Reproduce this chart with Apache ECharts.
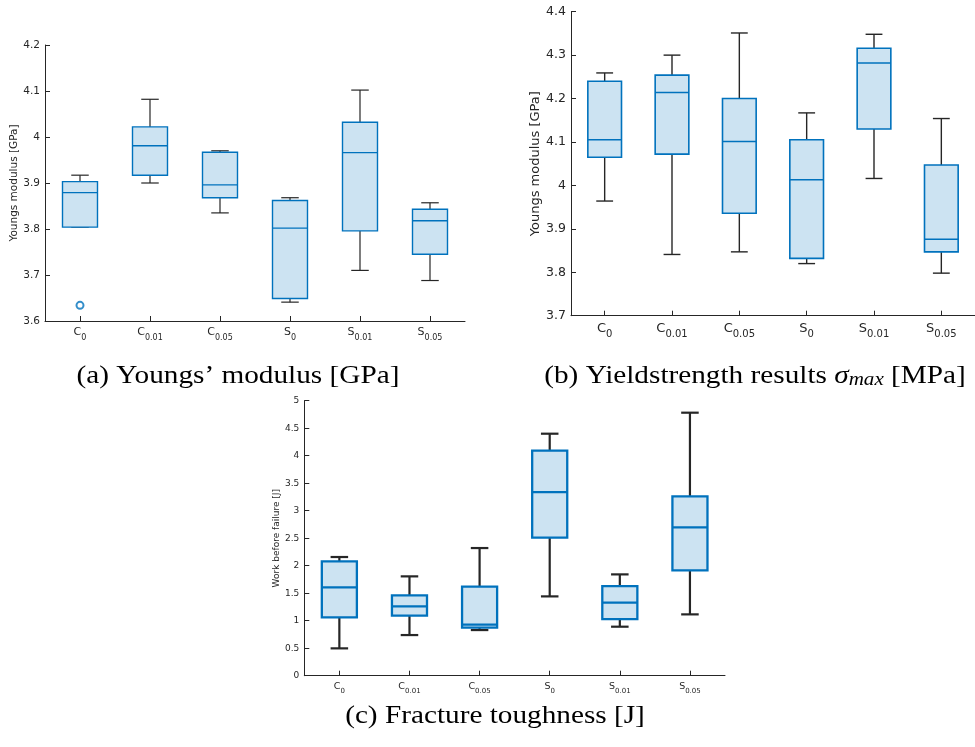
<!DOCTYPE html>
<html>
<head>
<meta charset="utf-8">
<script src="https://cdn.jsdelivr.net/npm/echarts@6/dist/echarts.min.js"></script>
<style>
  html, body { margin: 0; padding: 0; background: #fff; }
  #chart { width: 975px; height: 747px; }
</style>
</head>
<body>
<div id="chart"></div>
<script>
// Group labels: letter and subscript separated by "_"
const categories = ['C_0', 'C_0.01', 'C_0.05', 'S_0', 'S_0.01', 'S_0.05'];

// Box statistics per group: [lower whisker, Q1, median, Q3, upper whisker]
const modulusStats = [
  [3.804, 3.804, 3.879, 3.903, 3.917],
  [3.900, 3.917, 3.981, 4.022, 4.082],
  [3.835, 3.868, 3.896, 3.967, 3.970],
  [3.641, 3.649, 3.802, 3.862, 3.868],
  [3.710, 3.796, 3.966, 4.032, 4.102],
  [3.688, 3.745, 3.818, 3.843, 3.857]
];
// Outliers: [group index, value]
const modulusOutliers = [[0, 3.634]];

const yieldStats = [
  [3.964, 4.065, 4.105, 4.240, 4.259],
  [3.841, 4.072, 4.214, 4.254, 4.300],
  [3.847, 3.936, 4.101, 4.200, 4.351],
  [3.820, 3.832, 4.013, 4.105, 4.167],
  [4.016, 4.130, 4.282, 4.316, 4.348],
  [3.798, 3.847, 3.876, 4.047, 4.154]
];

const workStats = [
  [0.497, 1.061, 1.606, 2.079, 2.158],
  [0.739, 1.091, 1.261, 1.461, 1.806],
  [0.830, 0.873, 0.927, 1.618, 2.321],
  [1.442, 2.509, 3.339, 4.091, 4.400],
  [0.891, 1.030, 1.327, 1.630, 1.842],
  [1.115, 1.915, 2.697, 3.261, 4.782]
];

const BLUE = '#0072bd';
const FILL = '#cce3f2';
const WHISKER = '#262626';
const AXIS = '#262626';
const SANS = 'DejaVu Sans';
const SERIF = '"Liberation Serif"';
const CAP_SIZE = 25;
const CAP_SCALE = 1.17;

function boxRenderer(boxLw, whiskerLw) {
  return function (params, api) {
    const i = api.value(0);
    const lo = api.coord([i, api.value(1)]);
    const q1 = api.coord([i, api.value(2)]);
    const md = api.coord([i, api.value(3)]);
    const q3 = api.coord([i, api.value(4)]);
    const hi = api.coord([i, api.value(5)]);
    const band = api.size([1, 0])[0];
    const cx = lo[0];
    const hb = band * 0.25;   // half box width
    const hc = band * 0.125;  // half cap width
    const wStyle = { stroke: WHISKER, lineWidth: whiskerLw };
    return {
      type: 'group',
      children: [
        { type: 'line', shape: { x1: cx, y1: q3[1], x2: cx, y2: hi[1] }, style: wStyle },
        { type: 'line', shape: { x1: cx, y1: lo[1], x2: cx, y2: q1[1] }, style: wStyle },
        { type: 'line', shape: { x1: cx - hc, y1: hi[1], x2: cx + hc, y2: hi[1] }, style: wStyle },
        { type: 'line', shape: { x1: cx - hc, y1: lo[1], x2: cx + hc, y2: lo[1] }, style: wStyle },
        { type: 'rect', shape: { x: cx - hb, y: q3[1], width: hb * 2, height: q1[1] - q3[1] },
          style: { fill: FILL, stroke: BLUE, lineWidth: boxLw } },
        { type: 'line', shape: { x1: cx - hb, y1: md[1], x2: cx + hb, y2: md[1] },
          style: { stroke: BLUE, lineWidth: boxLw } }
      ]
    };
  };
}

function catLabel(fs, subFs, subPad) {
  return {
    interval: 0,
    color: AXIS,
    fontFamily: SANS,
    margin: 6,
    formatter: function (v) {
      const p = v.split('_');
      return '{m|' + p[0] + '}{s|' + p[1] + '}';
    },
    rich: {
      m: { fontSize: fs, fontFamily: SANS, color: AXIS, verticalAlign: 'top' },
      s: { fontSize: subFs, fontFamily: SANS, color: AXIS, verticalAlign: 'bottom', padding: [subPad, 0, 0, 0] }
    }
  };
}

function xAxisFor(gridIndex, fs, subFs, subPad) {
  return {
    type: 'category', gridIndex: gridIndex, data: categories, boundaryGap: true,
    axisLine: { lineStyle: { color: AXIS, width: 1 } },
    axisTick: { show: true, interval: 0, inside: true, alignWithLabel: true, length: 5,
      lineStyle: { color: AXIS, width: 1 } },
    axisLabel: catLabel(fs, subFs, subPad),
    splitLine: { show: false }
  };
}

function yAxisFor(gridIndex, min, max, interval, name, nameFs, labelFs, gap) {
  return {
    type: 'value', gridIndex: gridIndex, min: min, max: max, interval: interval,
    name: name, nameLocation: 'middle', nameGap: gap,
    nameTextStyle: { fontSize: nameFs, fontFamily: SANS, color: AXIS },
    axisLine: { show: true, lineStyle: { color: AXIS, width: 1 } },
    axisTick: { show: true, inside: true, length: 5, lineStyle: { color: AXIS } },
    axisLabel: { fontSize: labelFs, fontFamily: SANS, color: AXIS, margin: 5 },
    splitLine: { show: false }
  };
}

function caption(x, y, text, rich) {
  const style = {
    text: text, font: CAP_SIZE + 'px ' + SERIF, fill: '#000',
    textAlign: 'center', textVerticalAlign: 'middle'
  };
  if (rich) style.rich = rich;
  return { type: 'text', x: x, y: y, scaleX: CAP_SCALE, style: style };
}

const chart = echarts.init(document.getElementById('chart'), null, { renderer: 'canvas' });

chart.setOption({
  animation: false,
  backgroundColor: '#ffffff',
  grid: [
    { left: 45, top: 45, width: 420, height: 276 },
    { left: 571, top: 11.7, width: 414, height: 304 },
    { left: 304.3, top: 400.7, width: 420.7, height: 275 }
  ],
  xAxis: [
    xAxisFor(0, 11, 8, 7),
    xAxisFor(1, 13, 10, 8),
    xAxisFor(2, 9.5, 7, 6)
  ],
  yAxis: [
    yAxisFor(0, 3.6, 4.2, 0.1, 'Youngs modulus [GPa]', 10.5, 10.5, 20),
    yAxisFor(1, 3.7, 4.4, 0.1, 'Youngs modulus [GPa]', 13, 12.5, 27),
    yAxisFor(2, 0, 5, 0.5, 'Work before failure [J]', 9, 9, 22)
  ],
  graphic: [
    caption(238, 376, '(a) Youngs\u2019 modulus [GPa]'),
    caption(755, 376, '(b) Yieldstrength results {i|σ}{sub|max} [MPa]', {
      i: { font: 'italic ' + CAP_SIZE + 'px ' + SERIF, fill: '#000' },
      sub: { font: 'italic 18px ' + SERIF, fill: '#000', padding: [9, 0, 0, 0], verticalAlign: 'bottom' }
    }),
    caption(495, 716, '(c) Fracture toughness [J]')
  ],
  series: [
    {
      type: 'custom', xAxisIndex: 0, yAxisIndex: 0,
      renderItem: boxRenderer(1.4, 1.2),
      encode: { x: 0, y: [1, 2, 3, 4, 5] },
      data: modulusStats.map((s, i) => [i].concat(s))
    },
    {
      type: 'scatter', xAxisIndex: 0, yAxisIndex: 0,
      symbol: 'emptyCircle', symbolSize: 7,
      itemStyle: { color: BLUE, borderColor: BLUE, borderWidth: 1.2 },
      data: modulusOutliers
    },
    {
      type: 'custom', xAxisIndex: 1, yAxisIndex: 1,
      renderItem: boxRenderer(1.6, 1.4),
      encode: { x: 0, y: [1, 2, 3, 4, 5] },
      data: yieldStats.map((s, i) => [i].concat(s))
    },
    {
      type: 'custom', xAxisIndex: 2, yAxisIndex: 2,
      renderItem: boxRenderer(2.3, 2.2),
      encode: { x: 0, y: [1, 2, 3, 4, 5] },
      data: workStats.map((s, i) => [i].concat(s))
    }
  ]
});
</script>
</body>
</html>
